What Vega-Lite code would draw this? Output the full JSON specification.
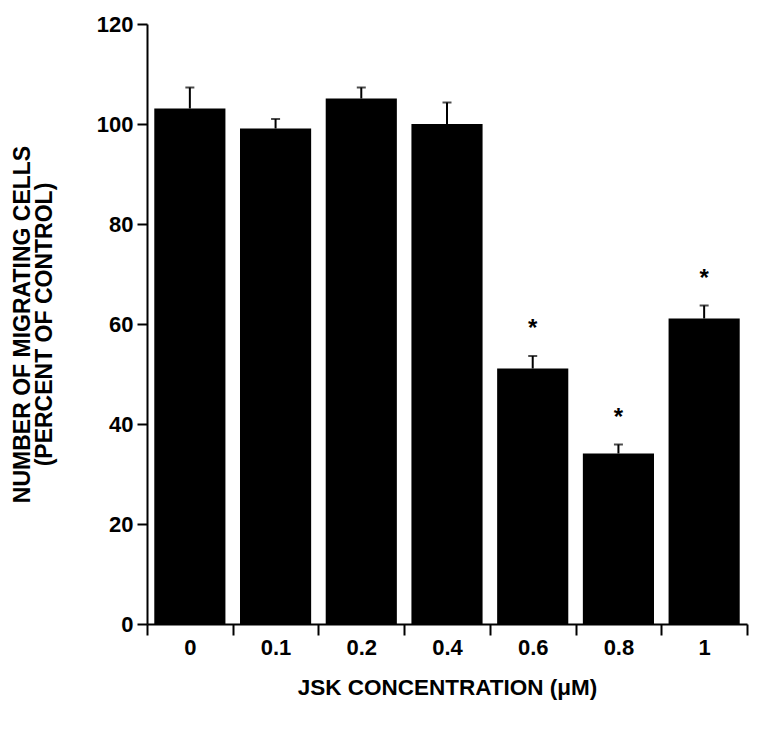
{
  "$schema": "https://vega.github.io/schema/vega-lite/v6.json",
  "width": 600,
  "height": 600,
  "autosize": "none",
  "padding": {"left": 147, "top": 24, "right": 13, "bottom": 110},
  "background": "white",
  "config": {
    "view": {"stroke": null},
    "font": "Liberation Sans",
    "axis": {
      "labelFont": "Liberation Sans",
      "titleFont": "Liberation Sans",
      "labelFontWeight": "bold",
      "titleFontWeight": "bold",
      "labelColor": "black",
      "titleColor": "black",
      "domainColor": "black",
      "tickColor": "black",
      "domainWidth": 2,
      "tickWidth": 2,
      "grid": false
    }
  },
  "data": {
    "values": [
      {"conc": "0", "value": 103.1, "err": 107.3, "sig": ""},
      {"conc": "0.1", "value": 99.1, "err": 101.0, "sig": ""},
      {"conc": "0.2", "value": 105.1, "err": 107.3, "sig": ""},
      {"conc": "0.4", "value": 100.0, "err": 104.3, "sig": ""},
      {"conc": "0.6", "value": 51.1, "err": 53.6, "sig": "*"},
      {"conc": "0.8", "value": 34.1, "err": 35.9, "sig": "*"},
      {"conc": "1", "value": 61.1, "err": 63.7, "sig": "*"}
    ]
  },
  "encoding": {
    "x": {
      "field": "conc",
      "type": "nominal",
      "sort": null,
      "scale": {"paddingInner": 0, "paddingOuter": 0},
      "axis": {
        "title": "JSK CONCENTRATION (\u03bcM)",
        "labelAngle": 0,
        "labelFontSize": 22,
        "titleFontSize": 22.5,
        "tickBand": "extent",
        "tickSize": 11,
        "labelPadding": 2,
        "titlePadding": 18
      }
    }
  },
  "layer": [
    {
      "mark": {"type": "bar", "color": "black", "width": {"band": 0.83}},
      "encoding": {
        "y": {
          "field": "value",
          "type": "quantitative",
          "scale": {"domain": [0, 120]},
          "axis": {
            "title": ["NUMBER OF MIGRATING CELLS", "(PERCENT OF CONTROL)"],
            "values": [0, 20, 40, 60, 80, 100, 120],
            "labelFontSize": 22,
            "titleFontSize": 23,
            "tickSize": 10,
            "labelPadding": 4,
            "titlePadding": 40,
            "titleLineHeight": 22
          }
        }
      }
    },
    {
      "mark": {"type": "rule", "color": "black", "strokeWidth": 2},
      "encoding": {
        "y": {"field": "value", "type": "quantitative"},
        "y2": {"field": "err"}
      }
    },
    {
      "mark": {"type": "tick", "color": "black", "thickness": 2, "size": 9},
      "encoding": {
        "y": {"field": "err", "type": "quantitative"}
      }
    },
    {
      "mark": {"type": "text", "color": "black", "fontSize": 24, "fontWeight": "bold", "baseline": "middle", "dy": -27},
      "encoding": {
        "y": {"field": "err", "type": "quantitative"},
        "text": {"field": "sig"}
      }
    }
  ]
}
